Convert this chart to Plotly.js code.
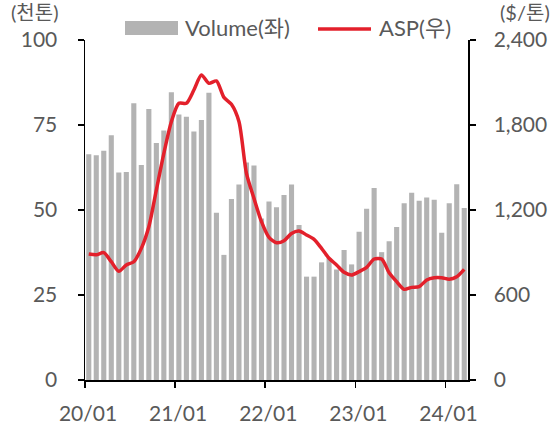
<!DOCTYPE html>
<html>
<head>
<meta charset="utf-8">
<script src="https://cdn.plot.ly/plotly-3.0.1.min.js"></script>
<style>
html,body{margin:0;padding:0;background:#fff;}
#chart{width:553px;height:425px;}
</style>
</head>
<body>
<div id="chart"></div>
<script>
// Monthly data, 20/01 .. 24/03
const months = Array.from({length: 51}, (_, i) => i);
const volume = [66.4,66.1,67.4,72.0,61.0,61.2,81.4,63.2,79.7,69.7,
                73.4,84.6,78.1,77.4,73.1,76.5,84.5,49.2,36.8,53.2,
                57.5,64.0,63.1,47.5,52.5,50.8,54.4,57.5,45.6,30.4,
                30.4,34.6,35.8,32.5,38.2,34.0,43.6,50.4,56.5,37.6,
                40.8,45.0,52.0,55.1,52.7,53.7,53.0,43.3,52.0,57.6,50.6];
const asp = [889,884,899,835,767,812,835,929,1082,1341,
             1600,1823,1953,1953,2047,2153,2094,2111,1995,1946,
             1824,1459,1282,1118,1007,969,983,1035,1052,1024,
             993,929,859,812,760,741,765,795,854,854,
             757,694,640,654,659,706,722,722,711,729,781];
const xTickVals = [-0.5, 11.5, 23.5, 35.5, 47.5];
const xTickText = ['20/01','21/01','22/01','23/01','24/01'];
const leftTicks = [0,25,50,75,100];
const rightTicks = [0,600,1200,1800,2400];

const W = 553, H = 425;
const M = {l: 85, r: 85, t: 40, b: 45};
const PW = W - M.l - M.r, PH = H - M.t - M.b;
const px = x => (x - M.l) / PW;
const py = y => (H - M.b - y) / PH;

const FONT = "Lato, 'Noto Sans CJK KR', sans-serif";
const GREY = '#595959';

const traces = [
  {type: 'bar', x: months, y: volume, name: 'Volume(좌)',
   marker: {color: '#b3b3b3'}, yaxis: 'y', hoverinfo: 'skip'},
  {type: 'scatter', mode: 'lines', x: months, y: asp, name: 'ASP(우)',
   line: {color: '#e3202b', width: 3.5, shape: 'spline', smoothing: 0.7},
   yaxis: 'y2', hoverinfo: 'skip'}
];

const layout = {
  width: W, height: H,
  margin: M,
  paper_bgcolor: '#fff', plot_bgcolor: '#fff',
  showlegend: false,
  bargap: 0.32,
  font: {family: FONT, color: GREY, size: 21},
  xaxis: {
    range: [-0.5, 50.5], tickmode: 'array', tickvals: xTickVals, ticktext: xTickText,
    showgrid: false, zeroline: false, showline: true, linecolor: '#000', linewidth: 1.5,
    ticks: 'outside', ticklen: 6, tickcolor: '#000', tickwidth: 1.5,
    tickfont: {family: FONT, color: GREY, size: 21}, ticklabelshift: 3, ticklabelstandoff: 8
  },
  yaxis: {
    range: [0, 100], tickmode: 'array', tickvals: leftTicks,
    showgrid: false, zeroline: false, showline: true, linecolor: '#000', linewidth: 1.5,
    ticks: 'outside', ticklen: 6, tickcolor: '#000', tickwidth: 1.5,
    tickfont: {family: FONT, color: GREY, size: 21}, ticklabelstandoff: 16
  },
  yaxis2: {
    range: [0, 2400], tickmode: 'array', tickvals: rightTicks, tickformat: ',',
    overlaying: 'y', side: 'right',
    showgrid: false, zeroline: false, showline: true, linecolor: '#000', linewidth: 1.5,
    ticks: 'outside', ticklen: 6, tickcolor: '#000', tickwidth: 1.5,
    tickfont: {family: FONT, color: GREY, size: 21}, ticklabelstandoff: 14
  },
  shapes: [
    {type: 'rect', xref: 'paper', yref: 'paper', x0: px(125), x1: px(178), y0: py(35), y1: py(21),
     fillcolor: '#b3b3b3', line: {width: 0}},
    {type: 'line', xref: 'paper', yref: 'paper', x0: px(318), x1: px(371), y0: py(29), y1: py(29),
     line: {color: '#e3202b', width: 3.5}}
  ],
  annotations: [
    {xref: 'paper', yref: 'paper', x: px(183), y: py(28), xanchor: 'left', yanchor: 'middle',
     text: 'Volume(좌)', showarrow: false, font: {family: FONT, color: GREY, size: 22}},
    {xref: 'paper', yref: 'paper', x: px(377), y: py(28), xanchor: 'left', yanchor: 'middle',
     text: 'ASP(우)', showarrow: false, font: {family: FONT, color: GREY, size: 22}},
    {xref: 'paper', yref: 'paper', x: px(34), y: py(12), xanchor: 'center', yanchor: 'middle',
     text: '(천톤)', showarrow: false, font: {family: FONT, color: GREY, size: 20}},
    {xref: 'paper', yref: 'paper', x: px(525), y: py(12), xanchor: 'center', yanchor: 'middle',
     text: '($/톤)', showarrow: false, font: {family: FONT, color: GREY, size: 20}}
  ]
};

Plotly.newPlot('chart', traces, layout, {staticPlot: true, displayModeBar: false});
</script>
</body>
</html>
